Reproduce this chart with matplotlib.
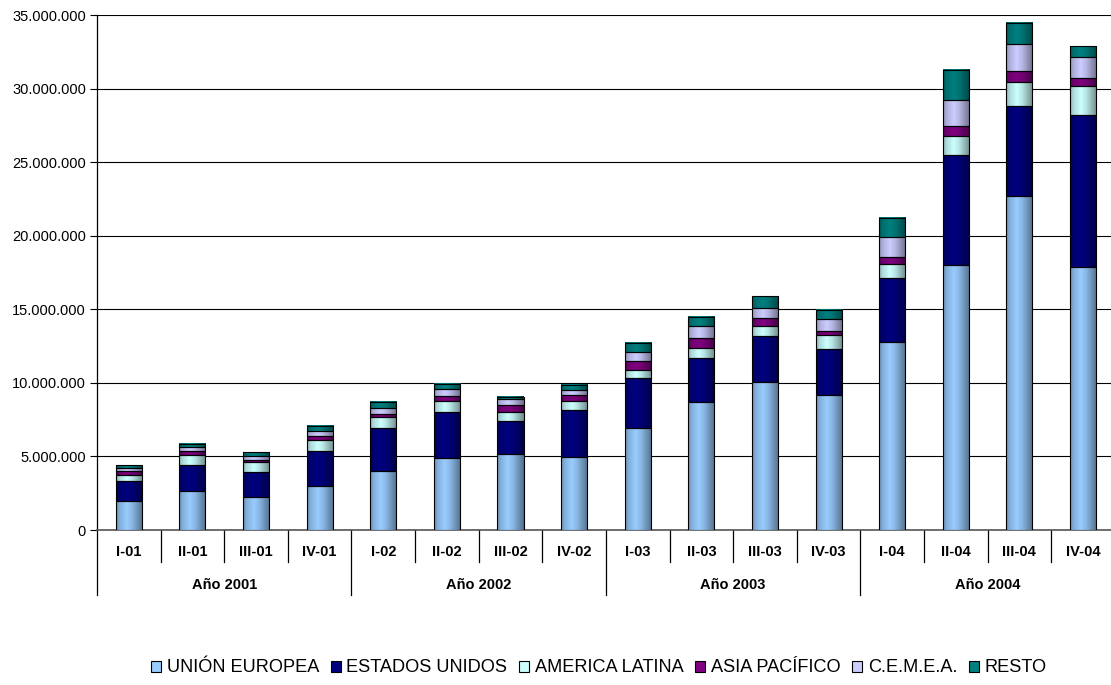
import numpy as np
import matplotlib
matplotlib.use("Agg")
import matplotlib.pyplot as plt
from matplotlib.colors import to_rgb
from matplotlib.patches import Patch

plt.rcParams['font.family'] = ['Liberation Sans', 'DejaVu Sans']

trimestres = ['I-01', 'II-01', 'III-01', 'IV-01',
              'I-02', 'II-02', 'III-02', 'IV-02',
              'I-03', 'II-03', 'III-03', 'IV-03',
              'I-04', 'II-04', 'III-04', 'IV-04']
anios = ['Año 2001', 'Año 2002', 'Año 2003', 'Año 2004']

union_europea = [1940000, 2670000, 2220000, 2990000, 4030000, 4870000, 5170000, 4940000,
                 6910000, 8700000, 10040000, 9180000, 12780000, 18030000, 22700000, 17900000]
estados_unidos = [1360000, 1740000, 1740000, 2360000, 2900000, 3170000, 2270000, 3220000,
                  3400000, 2970000, 3150000, 3130000, 4330000, 7450000, 6090000, 10330000]
america_latina = [450000, 680000, 660000, 770000, 720000, 750000, 610000, 610000,
                  570000, 720000, 680000, 950000, 970000, 1290000, 1650000, 1930000]
asia_pacifico = [250000, 290000, 160000, 290000, 230000, 320000, 430000, 430000,
                 630000, 630000, 570000, 270000, 450000, 720000, 750000, 570000]
cemea = [230000, 230000, 250000, 290000, 410000, 450000, 410000, 290000,
         590000, 820000, 660000, 790000, 1360000, 1720000, 1840000, 1430000]
resto = [200000, 230000, 250000, 340000, 430000, 360000, 180000, 380000,
         630000, 630000, 790000, 630000, 1340000, 2060000, 1450000, 720000]

series = [union_europea, estados_unidos, america_latina, asia_pacifico, cemea, resto]
nombres = ['UNIÓN EUROPEA', 'ESTADOS UNIDOS', 'AMERICA LATINA', 'ASIA PACÍFICO', 'C.E.M.E.A.', 'RESTO']
colores = ['#99CCFF', '#000080', '#CCFFFF', '#800080', '#CCCCFF', '#008080']

W, H = 1111, 685
fig = plt.figure(figsize=(W / 100, H / 100), dpi=100)
ax = fig.add_axes([97 / W, 1 - 530 / H, (1114.8 - 97) / W, 515 / H])

x = np.arange(len(trimestres))
ancho = 0.41

# sombreado tipo cilindro
pos = np.linspace(0, 1, 64)
fac = np.interp(pos, [0, 0.12, 0.4, 0.6, 1.0], [0.68, 0.85, 1.0, 0.9, 0.55])

base = np.zeros(len(trimestres))
for vals, col in zip(series, colores):
    vals = np.array(vals, dtype=float)
    barras = ax.bar(x, vals, ancho, bottom=base, facecolor='none', edgecolor='black',
                    linewidth=0.8, zorder=4)
    rgb = np.array(to_rgb(col))
    grad = np.clip(rgb[None, :] * fac[:, None], 0, 1)[None, :, :]
    for b in barras:
        bx, by = b.get_x(), b.get_y()
        ax.imshow(grad, extent=[bx, bx + b.get_width(), by, by + b.get_height()],
                  aspect='auto', interpolation='bilinear', zorder=3)
    base += vals

ax.set_xlim(-0.5, len(trimestres) - 0.5)
ax.set_ylim(0, 35000000)
ax.set_yticks(np.arange(0, 35000001, 5000000))
ax.set_yticklabels([f"{int(v):,}".replace(",", ".") for v in ax.get_yticks()], fontsize=10.5)
ax.yaxis.grid(True, color='black', linewidth=0.8, zorder=0)
ax.set_axisbelow(True)
ax.tick_params(axis='y', length=5, width=0.8, pad=3)
ax.set_xticks([])
for s in ['top', 'right']:
    ax.spines[s].set_visible(False)
ax.spines['left'].set_linewidth(0.9)
ax.spines['bottom'].set_color('#555555')
ax.spines['bottom'].set_linewidth(1.2)

# eje de categorías en dos niveles
trans = ax.get_xaxis_transform()
corto = -32 / 515
largo = -65 / 515
for i, t in enumerate(trimestres):
    ax.text(i, -22 / 515, t, transform=trans, ha='center', va='center',
            fontsize=10.5, fontweight='bold')
    if i > 0 and i % 4 != 0:
        ax.plot([i - 0.5, i - 0.5], [0, corto], transform=trans, color='black',
                linewidth=0.9, clip_on=False)
for g, a in enumerate(anios):
    ax.text(g * 4 + 1.5, -55 / 515, a, transform=trans, ha='center', va='center',
            fontsize=10.5, fontweight='bold')
    ax.plot([g * 4 - 0.5, g * 4 - 0.5], [0, largo], transform=trans, color='black',
            linewidth=0.9, clip_on=False)

handles = [Patch(facecolor=c, edgecolor='black', linewidth=0.8) for c in colores]
fig.legend(handles, nombres, loc='center', bbox_to_anchor=(599 / W, 1 - 668 / H), ncol=6,
           frameon=False, fontsize=13.1, handlelength=0.55, handleheight=0.55,
           handletextpad=0.3, columnspacing=0.65)

fig.savefig('out.png', dpi=100)
